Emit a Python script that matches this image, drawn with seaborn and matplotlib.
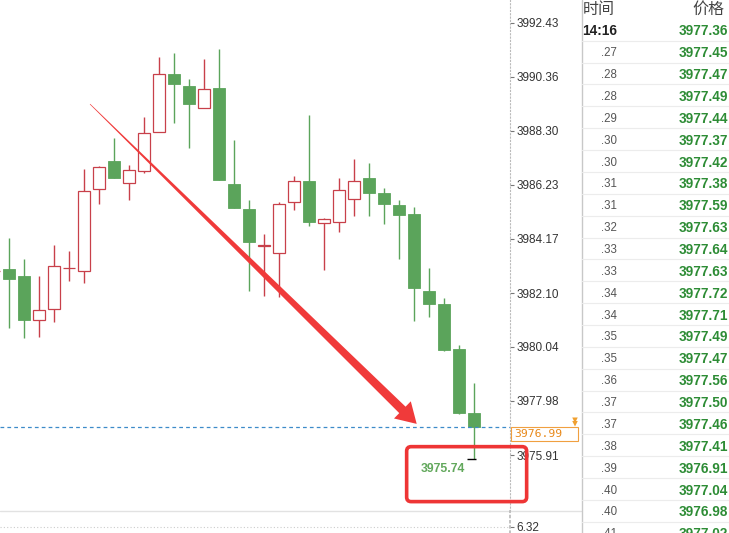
import numpy as np
import matplotlib
matplotlib.use("Agg")
import matplotlib.pyplot as plt
import matplotlib.transforms as mtransforms
from matplotlib.patches import Polygon, FancyBboxPatch, Rectangle
import seaborn as sns

# ---------------- data ----------------
candle_idx = list(range(-1, 32))
opens = [3982.96, 3983.00, 3982.77, 3981.08, 3981.50, 3983.07, 3982.95, 3986.08, 3987.16,
         3986.31, 3986.77, 3988.26, 3990.48, 3990.03, 3989.17, 3989.95, 3986.25, 3985.33,
         3983.89, 3983.64, 3985.59, 3986.40, 3984.79, 3984.82, 3985.70, 3986.48, 3985.92,
         3985.45, 3985.11, 3982.16, 3981.67, 3979.95, 3977.50]
highs = [3982.96, 3984.20, 3983.40, 3982.74, 3983.95, 3983.69, 3986.85, 3986.95, 3988.04,
         3987.01, 3988.84, 3991.13, 3991.26, 3990.28, 3991.06, 3991.44, 3987.93, 3985.67,
         3984.34, 3985.57, 3986.56, 3988.92, 3984.95, 3986.51, 3987.24, 3987.08, 3986.11,
         3985.67, 3985.37, 3983.05, 3981.91, 3980.10, 3978.66]
lows = [3982.96, 3980.76, 3980.40, 3980.42, 3980.99, 3982.56, 3982.48, 3985.50, 3986.49,
        3985.64, 3986.68, 3988.26, 3988.61, 3987.63, 3989.17, 3986.41, 3985.34, 3982.19,
        3982.00, 3981.95, 3985.28, 3984.68, 3982.99, 3984.43, 3985.04, 3985.04, 3984.73,
        3983.40, 3981.03, 3981.18, 3979.90, 3977.49, 3975.74]
closes = [3982.96, 3982.63, 3981.06, 3981.44, 3983.14, 3983.07, 3985.98, 3986.90, 3986.49,
          3986.81, 3988.22, 3990.47, 3990.08, 3989.31, 3989.90, 3986.41, 3985.34, 3984.05,
          3983.95, 3985.52, 3986.39, 3984.82, 3984.91, 3986.04, 3986.39, 3985.92, 3985.50,
          3985.08, 3982.30, 3981.69, 3979.94, 3977.53, 3976.99]
y_ticks = [3992.43, 3990.36, 3988.30, 3986.23, 3984.17, 3982.10, 3980.04, 3977.98, 3975.91]
last_price = 3976.99
low_price = 3975.74
vol_tick = 6.32

table_header = ["时间", "价格"]
tick_times = ["14:16", ".27", ".28", ".28", ".29", ".30", ".30", ".31", ".31", ".32", ".33",
              ".33", ".34", ".34", ".35", ".35", ".36", ".37", ".37", ".38", ".39", ".40",
              ".40", ".41"]
tick_prices = [3977.36, 3977.45, 3977.47, 3977.49, 3977.44, 3977.37, 3977.42, 3977.38,
               3977.59, 3977.63, 3977.64, 3977.63, 3977.72, 3977.71, 3977.49, 3977.47,
               3977.56, 3977.50, 3977.46, 3977.41, 3976.91, 3977.04, 3976.98, 3977.02]

# annotation anchors (candle index, price)
arrow_start = (5.38, 3989.32)
arrow_tip = (27.16, 3977.10)
box_x = (26.49, 34.49)
box_y = (3974.13, 3976.23)

# ---------------- style ----------------
sns.set_theme(style="white")
plt.rcParams['font.family'] = ['Liberation Sans', 'Noto Sans CJK SC', 'DejaVu Sans']

W, H = 729, 533
fig = plt.figure(figsize=(W / 100, H / 100), dpi=100, facecolor="white")

RED = "#c8404a"
GREEN = "#5ba45b"
PXU = 26.17          # pixels per price unit
PXX = 15.0           # pixels per candle

ax = fig.add_axes([0, (H - 511) / H, 510 / W, 511 / H])
ax.set_facecolor("white")
top = 3992.43 + 22.7 / PXU
ax.set_ylim(top - 511 / PXU, top)
ax.set_xlim(-9.3 / PXX, (510 - 9.3) / PXX)

o = np.array(opens); c = np.array(closes); hi = np.array(highs); lo = np.array(lows)
x = np.array(candle_idx)
up = c >= o
# wicks
ax.vlines(x[up], lo[up], hi[up], color=RED, lw=1.0, zorder=1)
ax.vlines(x[~up], lo[~up], hi[~up], color=GREEN, lw=1.0, zorder=1)
# bodies
ax.bar(x[up], (c - o)[up], bottom=o[up], width=0.82, facecolor="white",
       edgecolor=RED, linewidth=0.9, zorder=2)
ax.bar(x[~up], (c - o)[~up], bottom=o[~up], width=0.82, facecolor=GREEN,
       edgecolor=GREEN, linewidth=0.6, zorder=2)

# axis
ax.set_xticks([])
ax.yaxis.tick_right()
ax.set_yticks(y_ticks)
ax.set_yticklabels([f"{v:.2f}" for v in y_ticks])
ax.tick_params(axis="y", length=3, width=0.8, color="#777777", pad=1.5,
               labelsize=8.5, labelcolor="#333333", direction="out")
for s in ["top", "left", "bottom"]:
    ax.spines[s].set_visible(False)
ax.spines["right"].set_linestyle((0, (1, 2)))
ax.spines["right"].set_color("#bbbbbb")
ax.spines["right"].set_linewidth(0.8)

# last price line + label box
ax.axhline(last_price, color="#3d8bc9", lw=0.9, ls=(0, (3, 2.5)), zorder=3)
blend = mtransforms.blended_transform_factory(ax.transAxes, ax.transData)
ax.add_patch(Rectangle((511 / 510, last_price - 14 / PXU), 67 / 510, 14 / PXU,
                       transform=blend, fc="white", ec="#f0a040", lw=0.8,
                       clip_on=False, zorder=6))
ax.text(514 / 510, last_price - 7 / PXU, f"{last_price:.2f}", transform=blend,
        ha="left", va="center", fontsize=8.2, family="DejaVu Sans Mono",
        color="#e8891a", zorder=7, clip_on=False)
sns.scatterplot(x=[575 / 510, 575 / 510],
                y=[last_price + 6.5 / PXU, last_price + 3.0 / PXU],
                marker="v", s=16, color="#f0a030", edgecolor="none",
                transform=blend, clip_on=False, ax=ax, zorder=7, legend=False)
ax.set_xlabel(""); ax.set_ylabel("")

# low marker and label
ax.hlines(low_price, candle_idx[-1] - 0.51, candle_idx[-1] + 0.11, color="black", lw=1.0, zorder=4)
ax.text(candle_idx[-1] - 0.62, low_price - 0.36, f"{low_price:.2f}", ha="right", va="center",
        fontsize=8.8, fontweight="bold", color="#62a85c", zorder=6)

# red arrow (tapered)
S = ax.transData.transform(arrow_start)
T = ax.transData.transform(arrow_tip)
u = (T - S) / np.linalg.norm(T - S)
n = np.array([-u[1], u[0]])
hl, hw, sw, w0 = 20.0, 12.0, 4.5, 0.3
B = T - hl * u
pts = np.array([S + n * w0, B + n * sw, B + n * hw, T, B - n * hw, B - n * sw, S - n * w0])
ax.add_patch(Polygon(ax.transData.inverted().transform(pts), closed=True,
                     fc="#f03a3a", ec="none", zorder=5, clip_on=False))

# red rounded box
ax.add_patch(FancyBboxPatch((box_x[0], box_y[0]), box_x[1] - box_x[0], box_y[1] - box_y[0],
                            boxstyle="round,pad=0,rounding_size=0.3",
                            mutation_aspect=PXX / PXU, fc="none", ec="#ee3535",
                            lw=2.6, zorder=8, clip_on=False))

# ---------------- lower (volume) panel ----------------
vax = fig.add_axes([0, 0, 510 / W, 22 / H])
vax.set_facecolor("white")
vax.set_xlim(ax.get_xlim())
vax.set_ylim(0, vol_tick * 22 / 6.5)
vax.set_xticks([])
vax.yaxis.tick_right()
vax.set_yticks([vol_tick])
vax.set_yticklabels([f"{vol_tick:.2f}"])
vax.tick_params(axis="y", length=3, width=0.8, color="#777777", pad=1.5,
                labelsize=8.5, labelcolor="#333333")
for s in ["top", "left", "bottom"]:
    vax.spines[s].set_visible(False)
vax.spines["right"].set_linestyle((0, (1, 2)))
vax.spines["right"].set_color("#bbbbbb")
vax.axhline(vol_tick, color="#cccccc", lw=0.8, ls=(0, (1, 2)))
vax.axhline(vol_tick * 22 / 6.5, xmin=0, xmax=581 / 510, color="#e2e2e2", lw=1.0, clip_on=False)

# ---------------- tick table ----------------
ROWP = 21.87
tax = fig.add_axes([582 / W, 0, (W - 582) / W, 1])
tax.set_xlim(0, W - 582)
tax.set_ylim((H - 31.3) / ROWP, -31.3 / ROWP)
tax.axis("off")
tax.axvline(-0.3, color="#c8c8c8", lw=1.0, clip_on=False)
for k in range(len(tick_times)):
    tax.axhline(k + 0.43, color="#ececec", lw=0.8)
tax.text(0.3, -1.0, table_header[0], ha="left", va="center", fontsize=11.5,
         family="Noto Sans CJK SC", color="#444444")
tax.text(110.5, -1.0, table_header[1], ha="left", va="center", fontsize=11.5,
         family="Noto Sans CJK SC", color="#444444")
for k, (t, p) in enumerate(zip(tick_times, tick_prices)):
    if k == 0:
        tax.text(35, k, t, ha="right", va="center", fontsize=9.8, fontweight="bold",
                 color="#222222")
    else:
        tax.text(35, k, t, ha="right", va="center", fontsize=8.3, color="#555555")
    tax.text(W - 582 - 1, k, f"{p:.2f}", ha="right", va="center", fontsize=9.8,
             fontweight="bold", color="#2d8c35", clip_on=False)

fig.savefig("out.png", dpi=100, facecolor="white")
